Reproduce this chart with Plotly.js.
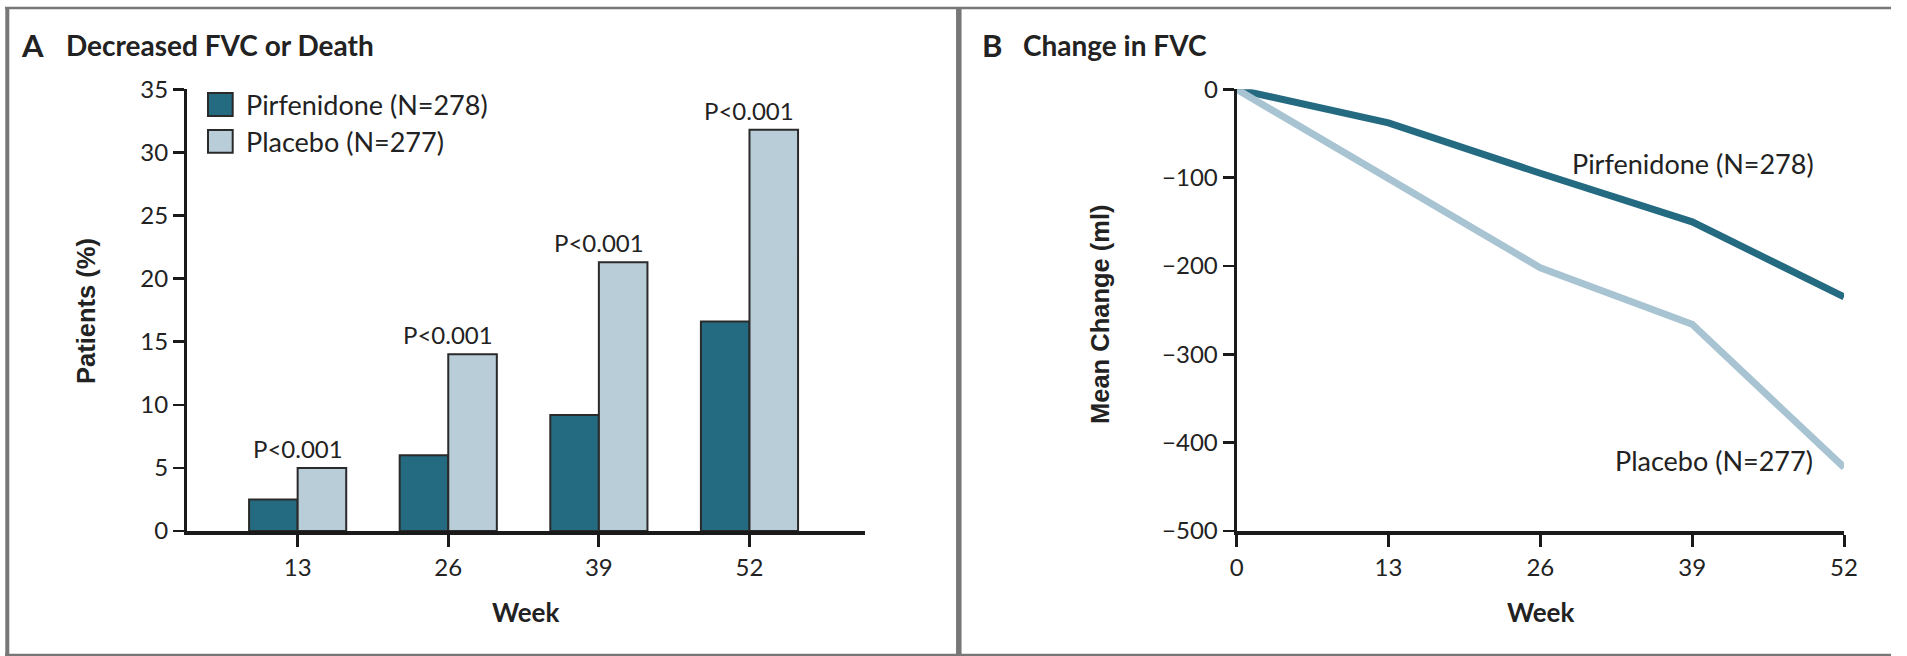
<!DOCTYPE html>
<html><head><meta charset="utf-8">
<script src="https://cdn.plot.ly/plotly-3.0.1.min.js"></script>
<style>html,body{margin:0;padding:0;background:#fff;} #chart{width:1907px;height:656px;}</style>
</head><body><div id="chart"></div>
<script>
// ---- data ----
const weeks = [13, 26, 39, 52];
const pirfenidonePct = [2.5, 6.0, 9.2, 16.6];
const placeboPct = [5.0, 14.0, 21.3, 31.8];
const pLabels = ['P<0.001', 'P<0.001', 'P<0.001', 'P<0.001'];
const fvcWeeks = [0, 13, 26, 39, 52];
const pirfenidoneFvc = [0, -38, -95, -150, -235];
const placeboFvc = [0, -101, -202, -266, -428];
const seriesNames = ['Pirfenidone (N=278)', 'Placebo (N=277)'];
const tickValsA = [0, 5, 10, 15, 20, 25, 30, 35];
const tickValsB = [0, -100, -200, -300, -400, -500];
const panelLetters = ['A', 'B'];
const panelTitles = ['Decreased FVC or Death', 'Change in FVC'];
const axisTitles = ['Week', 'Patients (%)', 'Week', 'Mean Change (ml)'];

// ---- styling ----
const W = 1907, H = 656;
const px = v => v / W;
const py = v => 1 - v / H;
const FONT = 'Lato, "Liberation Sans", Arial, sans-serif';
const HELV = '"Liberation Sans", Arial, Helvetica, sans-serif';
const TXT = '#222222';
const DARK = '#246a80';
const LIGHT_BAR = '#b9cdd8';
const LIGHT_LINE = '#a8c4d2';
const AX = '#1a1a1a';
const FRAME = '#777777';

const traces = [
  {type:'bar', x:weeks, y:pirfenidonePct, name:seriesNames[0], xaxis:'x', yaxis:'y',
   marker:{color:DARK, line:{color:'#2a2a2a', width:2}}, hoverinfo:'skip'},
  {type:'bar', x:weeks, y:placeboPct, name:seriesNames[1], xaxis:'x', yaxis:'y',
   marker:{color:LIGHT_BAR, line:{color:'#2a2a2a', width:2}}, hoverinfo:'skip'},
  {type:'scatter', mode:'lines', x:fvcWeeks, y:pirfenidoneFvc, name:seriesNames[0], xaxis:'x2', yaxis:'y2',
   line:{color:DARK, width:7}, hoverinfo:'skip'},
  {type:'scatter', mode:'lines', x:fvcWeeks, y:placeboFvc, name:seriesNames[1], xaxis:'x2', yaxis:'y2',
   line:{color:LIGHT_LINE, width:7}, hoverinfo:'skip'}
];

const axisCommon = {showgrid:false, zeroline:false, showline:true, linecolor:AX, ticks:'outside',
  tickcolor:AX, tickfont:{family:FONT, size:24, color:TXT}, fixedrange:true};

const annotations = [];
// P values
weeks.forEach((w, i) => annotations.push({xref:'x', yref:'y', x:w, y:placeboPct[i], text:pLabels[i],
  showarrow:false, xanchor:'center', yanchor:'bottom', yshift:3, font:{family:FONT, size:24, color:TXT}}));
// panel titles
annotations.push({xref:'paper', yref:'paper', x:px(19), y:py(45), xanchor:'left', yanchor:'middle', showarrow:false,
  text:'<b>' + panelLetters[0] + '</b>', font:{family:FONT, size:31, color:TXT}});
annotations.push({xref:'paper', yref:'paper', x:px(64), y:py(45), xanchor:'left', yanchor:'middle', showarrow:false,
  text:'<b>' + panelTitles[0] + '</b>', font:{family:FONT, size:28, color:TXT}});
annotations.push({xref:'paper', yref:'paper', x:px(980), y:py(45), xanchor:'left', yanchor:'middle', showarrow:false,
  text:'<b>' + panelLetters[1] + '</b>', font:{family:FONT, size:31, color:TXT}});
annotations.push({xref:'paper', yref:'paper', x:px(1021), y:py(45), xanchor:'left', yanchor:'middle', showarrow:false,
  text:'<b>' + panelTitles[1] + '</b>', font:{family:FONT, size:28, color:TXT}});
// axis titles
annotations.push({xref:'paper', yref:'paper', x:px(526), y:py(612), xanchor:'center', yanchor:'middle', showarrow:false,
  text:'<b>' + axisTitles[0] + '</b>', font:{family:FONT, size:26, color:TXT}});
annotations.push({xref:'paper', yref:'paper', x:px(86), y:py(311), xanchor:'center', yanchor:'middle', showarrow:false,
  textangle:-90, text:'<b>' + axisTitles[1] + '</b>', font:{family:HELV, size:25.5, color:TXT}});
annotations.push({xref:'paper', yref:'paper', x:px(1541), y:py(612), xanchor:'center', yanchor:'middle', showarrow:false,
  text:'<b>' + axisTitles[2] + '</b>', font:{family:FONT, size:26, color:TXT}});
annotations.push({xref:'paper', yref:'paper', x:px(1100), y:py(314), xanchor:'center', yanchor:'middle', showarrow:false,
  textangle:-90, text:'<b>' + axisTitles[3] + '</b>', font:{family:HELV, size:25.5, color:TXT}});
// legend (panel A) texts
annotations.push({xref:'paper', yref:'paper', x:px(244), y:py(104.6), xanchor:'left', yanchor:'middle', showarrow:false,
  text:seriesNames[0], font:{family:FONT, size:27, color:TXT}});
annotations.push({xref:'paper', yref:'paper', x:px(244), y:py(141.4), xanchor:'left', yanchor:'middle', showarrow:false,
  text:seriesNames[1], font:{family:FONT, size:27, color:TXT}});
// line labels (panel B)
annotations.push({xref:'x2', yref:'y2', x:28.5, y:-83.5, xanchor:'left', yanchor:'middle', showarrow:false,
  text:seriesNames[0], font:{family:FONT, size:27, color:TXT}});
annotations.push({xref:'x2', yref:'y2', x:32.2, y:-420.6, xanchor:'left', yanchor:'middle', showarrow:false,
  text:seriesNames[1], font:{family:FONT, size:27, color:TXT}});

const shapes = [
  // legend swatches
  {type:'rect', xref:'paper', yref:'paper', x0:px(208), x1:px(232.7), y0:py(93), y1:py(116),
   fillcolor:DARK, line:{color:'#2a2a2a', width:2}},
  {type:'rect', xref:'paper', yref:'paper', x0:px(208), x1:px(232.7), y0:py(130), y1:py(152.7),
   fillcolor:LIGHT_BAR, line:{color:'#2a2a2a', width:2}},
  // frame
  {type:'line', xref:'paper', yref:'paper', x0:px(5), x1:px(1891), y0:py(8), y1:py(8), line:{color:FRAME, width:2.5}},
  {type:'line', xref:'paper', yref:'paper', x0:px(5), x1:px(1891), y0:py(655), y1:py(655), line:{color:FRAME, width:2.5}},
  {type:'line', xref:'paper', yref:'paper', x0:px(7.3), x1:px(7.3), y0:py(7), y1:py(656), line:{color:FRAME, width:4}},
  {type:'line', xref:'paper', yref:'paper', x0:px(958.8), x1:px(958.8), y0:py(7), y1:py(656), line:{color:FRAME, width:5.5}}
];

const layout = {
  width:W, height:H, margin:{l:0, r:0, t:0, b:0}, paper_bgcolor:'#ffffff', plot_bgcolor:'rgba(0,0,0,0)',
  showlegend:false, barmode:'group', bargap:0.355, bargroupgap:0,
  xaxis:Object.assign({}, axisCommon, {domain:[px(187), px(865)], range:[3.45, 61.97], tickvals:weeks,
    ticklen:12, tickwidth:3, linewidth:4, anchor:'y'}),
  yaxis:Object.assign({}, axisCommon, {domain:[py(531), py(89.3)], range:[0, 35], tickvals:tickValsA,
    ticklen:11, tickwidth:2.5, linewidth:3, anchor:'x'}),
  xaxis2:Object.assign({}, axisCommon, {domain:[px(1236.6), px(1844)], range:[0, 52], tickvals:fvcWeeks,
    ticklen:12, tickwidth:3, linewidth:4, anchor:'y2'}),
  yaxis2:Object.assign({}, axisCommon, {domain:[py(531), py(89.3)], range:[-500, 0], tickvals:tickValsB,
    ticklen:11, tickwidth:2.5, linewidth:3, anchor:'x2'}),
  annotations:annotations, shapes:shapes
};

Plotly.newPlot('chart', traces, layout, {staticPlot:true, displayModeBar:false});
</script>
</body></html>
